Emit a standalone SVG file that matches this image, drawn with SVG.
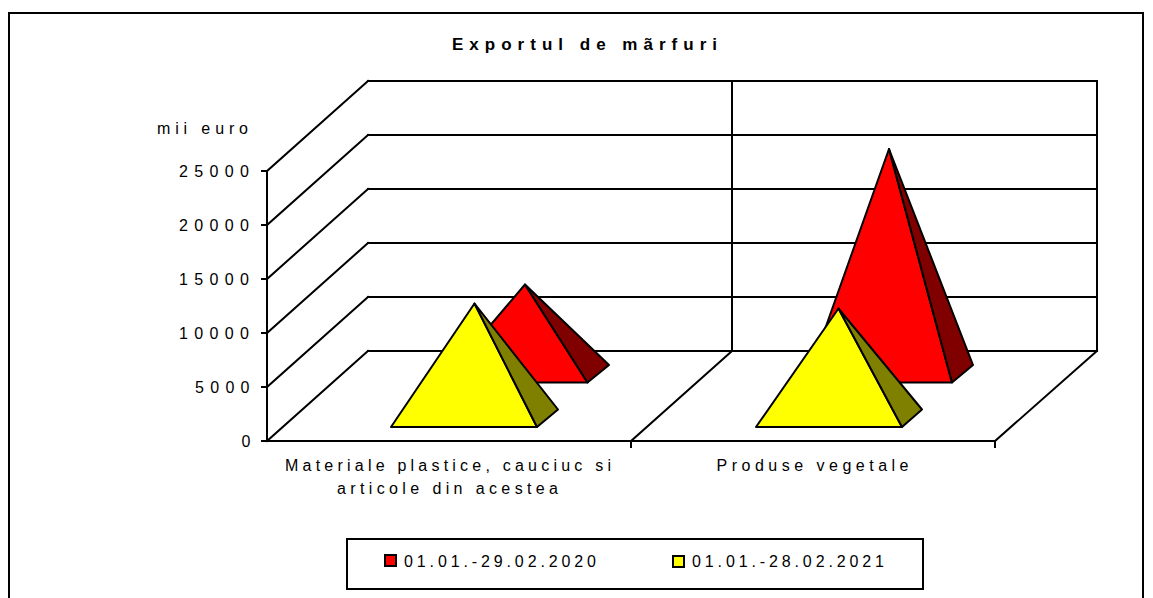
<svg xmlns="http://www.w3.org/2000/svg" width="1153" height="598" viewBox="0 0 1153 598">
<style>
.t{font-family:"Liberation Sans",Arial,sans-serif;font-size:16px;fill:#000}
.g{stroke:#000;stroke-width:2;fill:none;stroke-linecap:square}
.f{stroke:#000;stroke-width:2;stroke-linejoin:round}
</style>
<rect x="0" y="0" width="1153" height="598" fill="#fff"/>
<rect x="9" y="13" width="1134" height="600" fill="none" stroke="#000" stroke-width="2"/>
<text class="t" x="452" y="50" textLength="265" lengthAdjust="spacing" style="font-weight:bold;font-size:17px">Exportul de mãrfuri</text>
<g id="grid">
<path class="g" d="M368 81H1097M368 135H1097M368 189H1097M368 243H1097M368 297H1097M368 351H1097"/>
<path class="g" d="M267 171L368 81M267 225L368 135M267 279L368 189M267 333L368 243M267 387L368 297M267 441L368 351"/>
<path class="g" d="M732 81V351M1097 81V351"/>
<path class="g" d="M631 441L732 351M995 441L1097 351"/>
<path class="g" d="M267 171V441H995"/>
<path class="g" d="M262 171H267M262 225H267M262 279H267M262 333H267M262 387H267M262 441H267M631 441V447M995 441V447"/>
</g>
<g id="axis-labels">
<text class="t" x="157" y="134" textLength="91" lengthAdjust="spacing">mii euro</text>
<text class="t" x="179" y="176.5" textLength="70" lengthAdjust="spacing">25000</text>
<text class="t" x="179" y="230.5" textLength="70" lengthAdjust="spacing">20000</text>
<text class="t" x="179" y="284.5" textLength="70" lengthAdjust="spacing">15000</text>
<text class="t" x="179" y="338.5" textLength="70" lengthAdjust="spacing">10000</text>
<text class="t" x="195" y="392.5" textLength="54.5" lengthAdjust="spacing">5000</text>
<text class="t" x="241.5" y="446.5">0</text>
<text class="t" x="285" y="471" textLength="326" lengthAdjust="spacing">Materiale plastice, cauciuc si</text>
<text class="t" x="337" y="494" textLength="221" lengthAdjust="spacing">articole din acestea</text>
<text class="t" x="716.5" y="471" textLength="192" lengthAdjust="spacing">Produse vegetale</text>
</g>
<g id="red-materiale">
<polygon class="f" fill="#FF0000" points="441.5,382.5 587.5,382.5 525,284.5"/>
<polygon class="f" fill="#800000" points="587.5,382.5 609,365 525,284.5"/>
</g>
<g id="yellow-materiale">
<polygon class="f" fill="#FFFF00" points="391,427 537,427 474.5,303.5"/>
<polygon class="f" fill="#808000" points="537,427 558,409.5 474.5,303.5"/>
</g>
<g id="red-produse">
<polygon class="f" fill="#FF0000" points="806,382.5 952,382.5 889,149"/>
<polygon class="f" fill="#800000" points="952,382.5 973,365 889,149"/>
</g>
<g id="yellow-produse">
<polygon class="f" fill="#FFFF00" points="756,427 902,427 838.5,308.5"/>
<polygon class="f" fill="#808000" points="902,427 922,409.5 838.5,308.5"/>
</g>
<g id="legend">
<rect x="347" y="539" width="576" height="50" fill="#fff" stroke="#000" stroke-width="2"/>
<rect x="385" y="555" width="11" height="11" fill="#FF0000" stroke="#000" stroke-width="2"/>
<text class="t" x="404" y="567" textLength="192" lengthAdjust="spacing">01.01.-29.02.2020</text>
<rect x="673" y="556" width="11" height="11" fill="#FFFF00" stroke="#000" stroke-width="2"/>
<text class="t" x="692" y="567" textLength="192" lengthAdjust="spacing">01.01.-28.02.2021</text>
</g>
</svg>
